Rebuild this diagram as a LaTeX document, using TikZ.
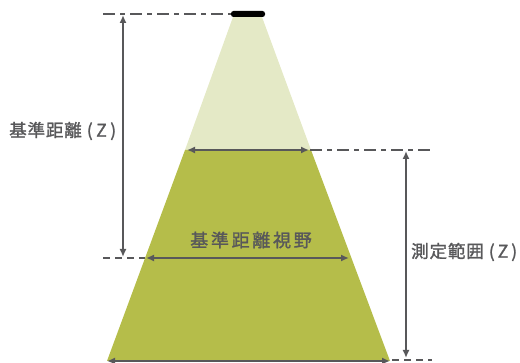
\documentclass[tikz,border=0pt]{standalone}
\usepackage{fontspec}
\setmainfont{Noto Sans CJK JP}
\usetikzlibrary{arrows.meta}
\definecolor{lineg}{HTML}{58585A}
\definecolor{lightc}{HTML}{E4E9C6}
\definecolor{darkc}{HTML}{B5BD4A}
\begin{document}
\begin{tikzpicture}[x=1pt,y=-1pt,
  dim/.style={draw=lineg,line width=1.6pt,{Latex[length=8pt,width=7pt]}-{Latex[length=8pt,width=7pt]}},
  dashdot/.style={draw=lineg,line width=1.6pt,dash pattern=on 12pt off 5pt on 5pt off 5pt},
  dashshort/.style={draw=lineg,line width=1.6pt,dash pattern=on 7pt off 5pt},
  lbl/.style={text=lineg,inner sep=0pt,font=\fontsize{17.5}{20}\selectfont\addfontfeatures{LetterSpace=5,FakeBold=1.5}}]
\useasboundingbox (0,0) rectangle (520,363);
% cone
\coordinate (tl) at (233,17);
\coordinate (tr) at (262,17);
\coordinate (ml) at (185,150);
\coordinate (mr) at (311,150);
\coordinate (bl) at (107,361);
\coordinate (br) at (390,361);
\fill[lightc] (tl) -- (tr) -- (mr) -- (ml) -- cycle;
\fill[darkc] (ml) -- (mr) -- (br) -- (bl) -- cycle;
% sensor
\node[fill=black,rounded corners=2.5pt,minimum width=34pt,minimum height=6pt,inner sep=0pt] (sensor) at (248,14) {};
% extension lines
\coordinate (t0) at (103,14);
\draw[dashdot] (t0) -- (sensor.west);
\coordinate (m1) at (432,150);
\coordinate (a1) at (310,150);
\draw[dashdot] (a1) -- (m1);
\coordinate (l0) at (103,258);
\coordinate (l1) at (145,258);
\draw[dashshort] (l0) -- (l1);
\coordinate (b0) at (392,360);
\coordinate (b1) at (432,360);
\draw[dashshort] (b0) -- (b1);
% vertical dims
\coordinate (v1t) at (123,15);
\coordinate (v1b) at (123,257);
\draw[dim] (v1t) -- (v1b);
\coordinate (v2t) at (406,151);
\coordinate (v2b) at (406,358);
\draw[dim] (v2t) -- (v2b);
% horizontal dims
\coordinate (h1l) at (187,150);
\coordinate (h1r) at (309,150);
\draw[dim] (h1l) -- (h1r);
\coordinate (h2l) at (146,258);
\coordinate (h2r) at (349,258);
\draw[dim] (h2l) -- (h2r);
\coordinate (h3l) at (107,361);
\coordinate (h3r) at (390,361);
\draw[dim] (h3l) -- (h3r);
% labels
\node[lbl,anchor=west] (zl) at (9,131) {基準距離\hspace{5pt}(\hspace{3.5pt}Z\hspace{3.5pt})};
\node[lbl,font=\fontsize{18}{20}\selectfont\addfontfeatures{LetterSpace=15,FakeBold=1.5}] (fov) at (251,240) {基準距離視野};
\node[lbl,anchor=west] (zr) at (411,252) {測定範囲\hspace{5pt}(\hspace{3pt}Z\hspace{3pt})};
\end{tikzpicture}
\end{document}
